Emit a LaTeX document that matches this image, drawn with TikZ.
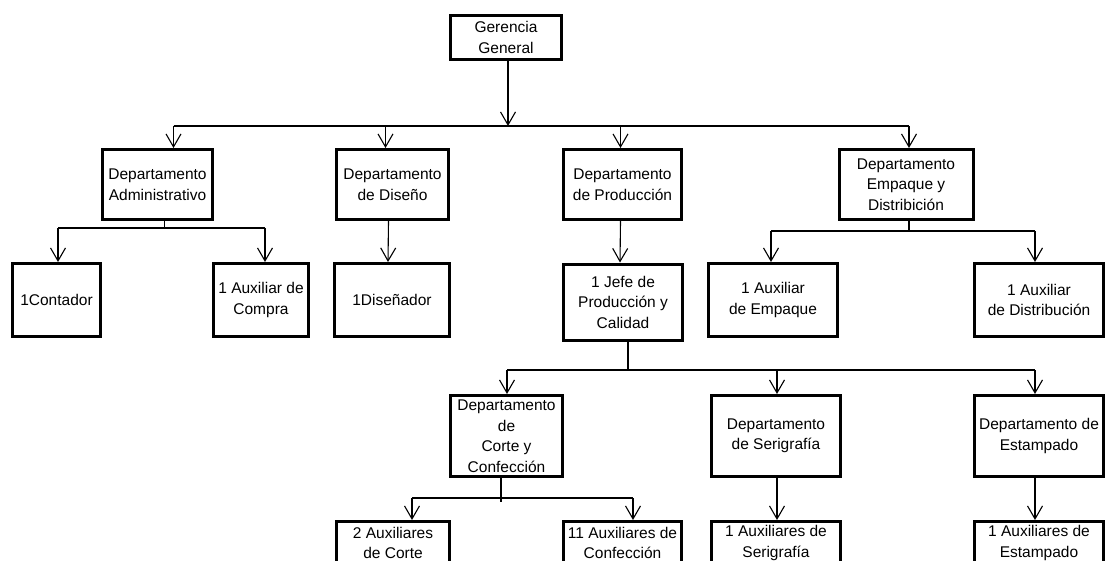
\documentclass[tikz,border=0pt]{standalone}
\usepackage{fontspec}
\setmainfont{Liberation Sans}
\usetikzlibrary{arrows.meta}

\begin{document}
\begin{tikzpicture}[x=1pt,y=1pt,
  box/.style={draw, line width=3pt, align=center, inner sep=0pt,
    font=\fontsize{15.5}{20.5}\selectfont},
  arr/.style={line width=1.1pt, -{Straight Barb[length=13pt,width=15pt,line width=1.1pt]}},
  bus/.style={line width=1.1pt}]
\useasboundingbox (0,0) rectangle (1107,-561);
\clip (0,0) rectangle (1107,-561);
% boxes
\node[box, minimum width=111, minimum height=44] (ger) at (506,-37.5) {Gerencia\\General};
\node[box, minimum width=110, minimum height=70] (adm) at (157.5,-184.5) {Departamento\\Administrativo};
\node[box, minimum width=112, minimum height=70] (dis) at (392.5,-184.5) {Departamento\\de Diseño};
\node[box, minimum width=118, minimum height=70] (pro) at (622.5,-184.5) {Departamento\\de Producción};
\node[box, minimum width=134, minimum height=70] (emp) at (906,-184.5) {Departamento\\Empaque y\\Distribición};
\node[box, minimum width=88, minimum height=73] (con) at (56.5,-300) {1Contador};
\node[box, minimum width=95, minimum height=73] (com) at (261,-300) {1 Auxiliar de\\Compra};
\node[box, minimum width=115, minimum height=73] (dsn) at (392,-300) {1Diseñador};
\node[box, minimum width=119, minimum height=76] (jef) at (623,-302) {1 Jefe de\\Producción y\\Calidad};
\node[box, minimum width=129, minimum height=73] (aem) at (773,-300) {1 Auxiliar\\de Empaque};
\node[box, minimum width=129, minimum height=73] (adi) at (1039,-300) {1 Auxiliar\\de Distribución};
\node[box, minimum width=112, minimum height=81] (cor) at (506.5,-436) {Departamento\\de\\Corte y\\Confección};
\node[box, minimum width=129, minimum height=81] (ser) at (776,-436) {Departamento\\de Serigrafía};
\node[box, minimum width=129, minimum height=81] (est) at (1039,-436) {Departamento de\\Estampado};
\node[box, minimum width=113, minimum height=43] (aco) at (393,-543) {2 Auxiliares\\de Corte};
\node[box, minimum width=118, minimum height=43] (acf) at (622.5,-543) {11 Auxiliares de\\Confección};
\node[box, minimum width=129, minimum height=43] (ase) at (776,-543) {1 Auxiliares de\\Serigrafía};
\node[box, minimum width=129, minimum height=43] (aes) at (1039,-543) {1 Auxiliares de\\Estampado};
% bus heights
\coordinate (b1) at (0,-126);
\coordinate (b2) at (0,-228);
\coordinate (b3) at (0,-231);
\coordinate (b4) at (0,-370);
\coordinate (b5) at (0,-498);
% gerencia to departments
\draw[arr] ([xshift=2]ger.south) -- ([xshift=2]ger.south |- b1);
\draw[bus] ([xshift=16]adm.north |- b1) -- ([xshift=3]emp.north |- b1);
\foreach \n/\s in {adm/16,dis/-7,pro/-2,emp/3}
  \draw[arr] ([xshift=\s]\n.north |- b1) -- ([xshift=\s]\n.north);
% administrativo
\draw[bus] ([xshift=7]adm.south) -- ([xshift=7]adm.south |- b2);
\draw[bus] ([xshift=1.5]con.north |- b2) -- ([xshift=4]com.north |- b2);
\foreach \n/\s in {con/1.5,com/4}
  \draw[arr] ([xshift=\s]\n.north |- b2) -- ([xshift=\s]\n.north);
% diseno and produccion
\draw[arr] ([xshift=-4]dis.south) -- ([xshift=-4]dsn.north);
\draw[arr] ([xshift=-2]pro.south) -- ([xshift=-3]jef.north);
% empaque
\draw[bus] ([xshift=3]emp.south) -- ([xshift=3]emp.south |- b3);
\draw[bus] ([xshift=-2]aem.north |- b3) -- ([xshift=-4]adi.north |- b3);
\foreach \n/\s in {aem/-2,adi/-4}
  \draw[arr] ([xshift=\s]\n.north |- b3) -- ([xshift=\s]\n.north);
% jefe
\draw[bus] ([xshift=5]jef.south) -- ([xshift=5]jef.south |- b4);
\draw[bus] ([xshift=0.5]cor.north |- b4) -- ([xshift=-4]est.north |- b4);
\foreach \n/\s in {cor/0.5,ser/1,est/-4}
  \draw[arr] ([xshift=\s]\n.north |- b4) -- ([xshift=\s]\n.north);
% corte
\draw[bus] ([xshift=-5.5]cor.south) -- ([xshift=-5.5,yshift=-4]cor.south |- b5);
\draw[bus] ([xshift=19]aco.north |- b5) -- ([xshift=10.5]acf.north |- b5);
\foreach \n/\s in {aco/19,acf/10.5}
  \draw[arr] ([xshift=\s]\n.north |- b5) -- ([xshift=\s]\n.north);
% serigrafia and estampado
\draw[arr] ([xshift=1]ser.south) -- ([xshift=1]ase.north);
\draw[arr] ([xshift=-4]est.south) -- ([xshift=-4]aes.north);
\end{tikzpicture}
\end{document}
